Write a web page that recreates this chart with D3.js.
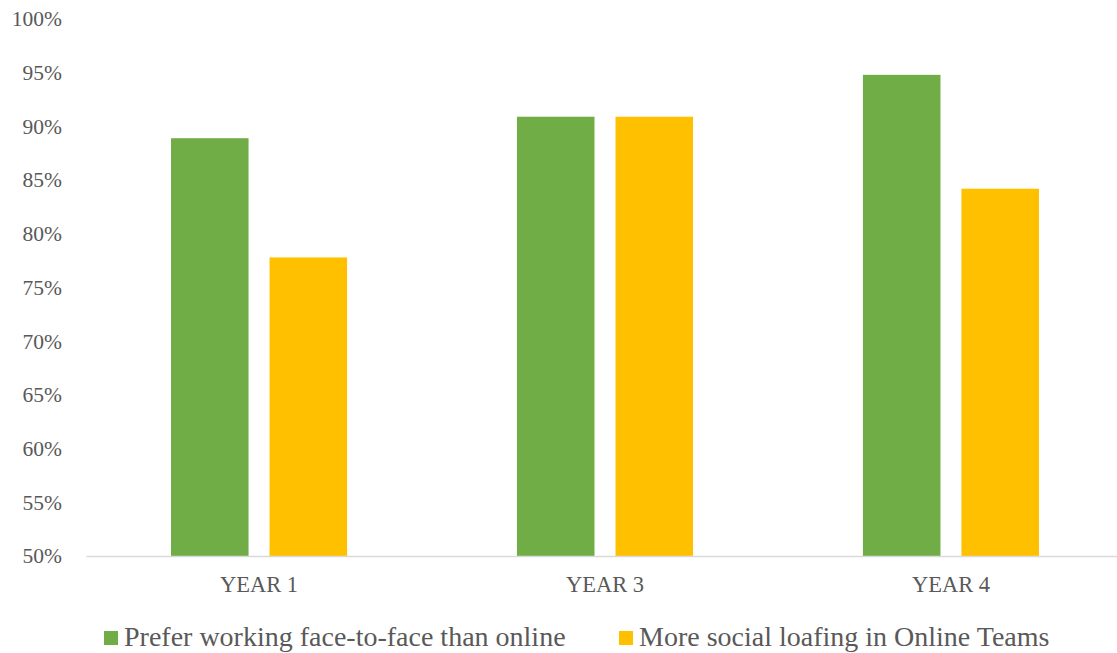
<!DOCTYPE html>
<html>
<head>
<meta charset="utf-8">
<script src="https://cdn.jsdelivr.net/npm/d3@7"></script>
<style>
  html, body { margin: 0; padding: 0; background: #fff; }
  svg { display: block; }
  text { font-family: "Liberation Serif", "Times New Roman", serif; fill: #595959; }
</style>
</head>
<body>
<svg id="chart" width="1117" height="653"></svg>
<script>
const categories = ["YEAR 1", "YEAR 3", "YEAR 4"];
const seriesNames = ["Prefer working face-to-face than online", "More social loafing in Online Teams"];
const preferFaceToFace = [0.889, 0.909, 0.948];
const socialLoafing = [0.778, 0.909, 0.842];
const yTicks = [0.50, 0.55, 0.60, 0.65, 0.70, 0.75, 0.80, 0.85, 0.90, 0.95, 1.00];
const colors = ["#70AD47", "#FFC000"];

const seriesValues = [preferFaceToFace, socialLoafing];
const svg = d3.select("#chart");
const FONT = "Liberation Serif";

const plotLeft = 86, plotRight = 1124, plotTop = 19, plotBottom = 556;

const y = d3.scaleLinear().domain([0.5, 1.0]).range([plotBottom, plotTop]);
const x0 = d3.scaleBand().domain(categories).range([plotLeft, plotRight])
  .paddingInner(0.491).paddingOuter(0.2457);
const x1 = d3.scaleBand().domain(seriesNames).range([0, x0.bandwidth()])
  .paddingInner(0.213).paddingOuter(0);

// bars
const groups = svg.append("g").selectAll("g")
  .data(categories)
  .join("g")
  .attr("transform", d => `translate(${x0(d)},0)`);

groups.selectAll("rect")
  .data((d, i) => seriesNames.map((s, j) => ({ s, j, v: seriesValues[j][i] })))
  .join("rect")
  .attr("x", d => x1(d.s))
  .attr("width", x1.bandwidth())
  .attr("y", d => y(d.v))
  .attr("height", d => y(0.5) - y(d.v))
  .attr("fill", d => colors[d.j]);

// y axis labels
const yAxis = d3.axisLeft(y).tickValues(yTicks).tickFormat(d3.format(".0%")).tickSize(0).tickPadding(0);
const yg = svg.append("g").attr("transform", `translate(62,0)`).call(yAxis)
  .attr("font-family", FONT).attr("font-size", 21.5);
yg.select(".domain").remove();
yg.selectAll("text").attr("fill", "#595959");

// x axis
const xAxis = d3.axisBottom(x0).tickSize(0).tickPadding(0);
const xg = svg.append("g").attr("transform", `translate(0,${plotBottom})`).call(xAxis)
  .attr("font-family", FONT).attr("font-size", 22.5);
xg.select(".domain").attr("stroke", "#D9D9D9").attr("stroke-width", 1.5);
xg.selectAll("text").attr("fill", "#595959").attr("dy", "0").attr("y", 36);

// legend
const legendX = [104, 619];
const legend = svg.append("g").attr("font-family", FONT).selectAll("g")
  .data(seriesNames)
  .join("g")
  .attr("transform", (d, i) => `translate(${legendX[i]},631)`);
legend.append("rect").attr("width", 14).attr("height", 14).attr("fill", (d, i) => colors[i]);
legend.append("text").attr("x", 20).attr("y", 15).attr("font-size", 28).text(d => d);
</script>
</body>
</html>
